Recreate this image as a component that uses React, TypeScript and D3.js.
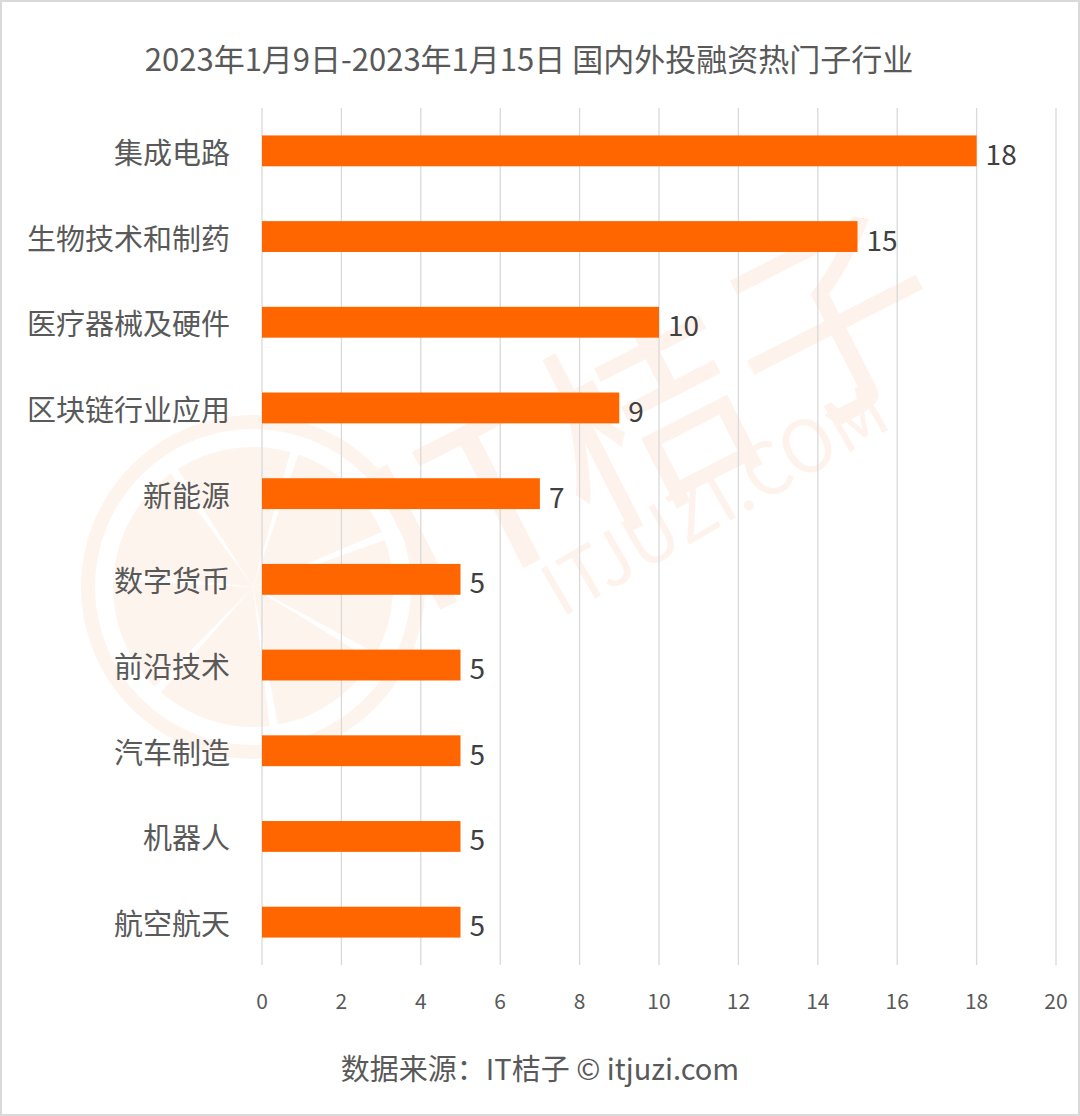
import React from "react";
import * as d3 from "d3";

const categories = ["集成电路", "生物技术和制药", "医疗器械及硬件", "区块链行业应用", "新能源", "数字货币", "前沿技术", "汽车制造", "机器人", "航空航天"];
const values = [18, 15, 10, 9, 7, 5, 5, 5, 5, 5];
const xTicks = [0, 2, 4, 6, 8, 10, 12, 14, 16, 18, 20];
const title = "2023年1月9日-2023年1月15日 国内外投融资热门子行业";
const footer = "数据来源：IT桔子 © itjuzi.com";

const W = 1080;
const H = 1116;
const FONT = "'Noto Sans CJK SC', 'Noto Sans', sans-serif";

export default function App() {
  const x = d3.scaleLinear().domain([0, 20]).range([262, 1056]);
  const y = d3.scaleBand<string>().domain(categories).range([108, 965]).paddingInner(0.64).paddingOuter(0.32);

  const wedgeAngles = d3.range(7).map((i) => i);
  const pie = d3.pie<number>().value(() => 1).padAngle(0.06).startAngle(0.3).endAngle(0.3 + Math.PI * 2);
  const arc = d3.arc<d3.PieArcDatum<number>>().innerRadius(0).outerRadius(140);
  const wedges = pie(wedgeAngles);

  return (
    <svg width={W} height={H} style={{ position: "absolute", left: 0, top: 0, background: "#fff" }} fontFamily={FONT}>
      <rect x={0} y={0} width={W} height={H} fill="#fff" />
      {/* watermark */}
      <g>
        <g transform="translate(253,587)">
          <circle r={165} fill="none" stroke="#fef4ee" strokeWidth={14} />
          {wedges.map((w, i) => (
            <path key={i} d={arc(w) || ""} fill="#fef4ee" />
          ))}
        </g>
        <text x={650} y={400} fontSize={210} fontWeight={400} fill="#fef3ec" textAnchor="middle" dominantBaseline="central" transform="rotate(-27,650,400)" fontFamily={FONT}>IT桔子</text>
        <text x={712} y={495} fontSize={72} fontWeight={400} fill="#fef3ec" textAnchor="middle" dominantBaseline="central" transform="rotate(-30,712,495)" fontFamily={FONT}>ITJUZI.COM</text>
      </g>
      {/* grid */}
      {xTicks.map((t) => (
        <line key={t} x1={x(t)} x2={x(t)} y1={108} y2={965} stroke="#d9d9d9" strokeWidth={1.3} />
      ))}
      {xTicks.map((t) => (
        <text key={"l" + t} x={x(t)} y={1000} fontSize={21} fill="#595959" textAnchor="middle" dominantBaseline="central">{t}</text>
      ))}
      {/* bars */}
      {categories.map((c, i) => (
        <g key={c}>
          <rect x={x(0)} y={y(c)} width={x(values[i]) - x(0)} height={y.bandwidth()} fill="#ff6600" />
          <text x={230} y={(y(c) as number) + y.bandwidth() / 2} fontSize={29} fill="#595959" textAnchor="end" dominantBaseline="central">{c}</text>
          <text x={x(values[i]) + 9} y={(y(c) as number) + y.bandwidth() / 2 + 2} fontSize={28} fill="#404040" textAnchor="start" dominantBaseline="central">{values[i]}</text>
        </g>
      ))}
      {/* title */}
      <text x={529} y={57} fontSize={31} fill="#595959" textAnchor="middle" dominantBaseline="central">{title}</text>
      <text x={540} y={1067} fontSize={29} fill="#595959" textAnchor="middle" dominantBaseline="central">{footer}</text>
      <rect x={1} y={1} width={W - 2} height={H - 2} fill="none" stroke="#d9d9d9" strokeWidth={2} />
    </svg>
  );
}
